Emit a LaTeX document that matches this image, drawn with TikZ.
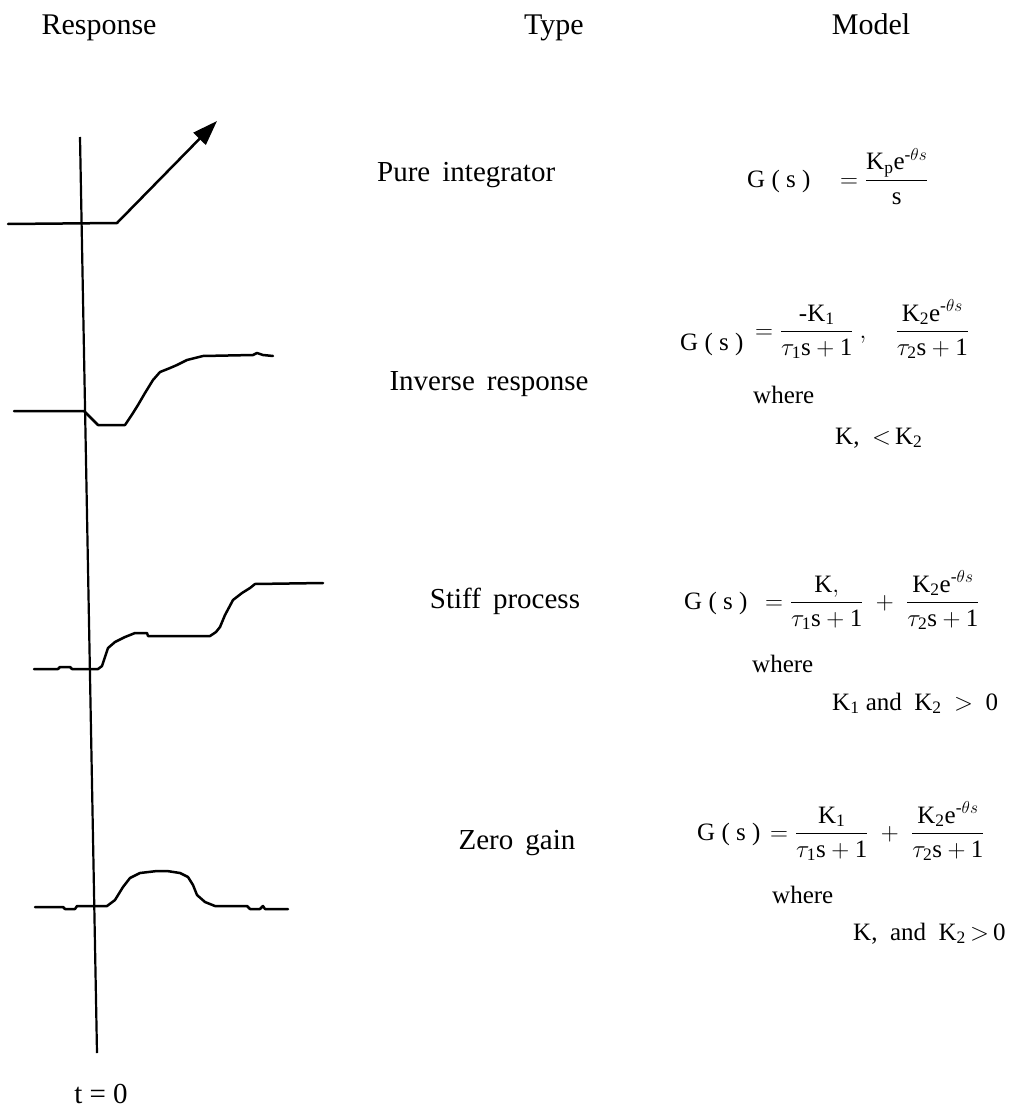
\documentclass[tikz,border=0pt]{standalone}
\usepackage{amsmath}
\usepackage{fontspec}
\setmainfont{Liberation Serif}
\usetikzlibrary{arrows.meta}
\newcommand{\rn}[1]{\mathrm{#1}}
\begin{document}
\begin{tikzpicture}[x=1pt,y=-1pt,
  head/.style={font=\fontsize{30}{34}\selectfont, inner sep=0pt, anchor=base},
  lab/.style={font=\fontsize{29}{33}\selectfont, inner sep=0pt, anchor=base},
  frm/.style={font=\fontsize{25}{28}\selectfont, inner sep=0pt, anchor=base west},
  curve/.style={line width=2.5pt, line join=round, line cap=round},
  axisline/.style={line width=2.2pt}]
\useasboundingbox (0,0) rectangle (1033,1110);
% headers
\node[head] (hresp) at (99,35) {Response};
\node[head] (htype) at (554,35) {Type};
\node[head] (hmodel) at (871,35) {Model};
% type labels
\node[lab,anchor=base west] (t1) at (377,182) {Pure\, integrator};
\node[lab] (t2) at (489,390) {Inverse\, response};
\node[lab] (t3) at (505,608) {Stiff\, process};
\node[lab] (t4) at (517,849) {Zero\, gain};
% axis
\coordinate (axtop) at (80,137);
\coordinate (axbot) at (97,1053);
\draw[axisline] (axtop) -- (axbot);
\node[lab] (t0) at (101,1103) {t\ =\ 0};
% pure integrator
\coordinate (p0) at (8,224);
\coordinate (p1) at (117,223);
\coordinate (p2) at (217,121);
\draw[curve,-{Triangle[length=25pt,width=17pt]}] (p0) -- (p1) -- (p2);
% inverse response
\draw[curve] (14,411) -- (84,411) -- (98,425) -- (125,425) -- (133,413) -- (138,405) -- (145,393) -- (153,380) -- (160,372) -- (170,368) -- (177,365) -- (187,360) -- (203,356) -- (253,355) -- (257,353) -- (263,355) -- (273,356);
% stiff process
\draw[curve] (34,669) -- (58,669) -- (60,667) -- (70,667) -- (72,669) -- (98,669) -- (102,666) -- (105,657) -- (108,648) -- (115,642) -- (125,637) -- (135,633) -- (147,633) -- (148,636) -- (210,636) -- (216,632) -- (220,627) -- (225,615) -- (233,600) -- (242,593) -- (250,588) -- (255,584) -- (323,583);
% zero gain
\draw[curve] (35,907) -- (63,907) -- (65,909) -- (75,909) -- (77,906) -- (107,906) -- (115,900) -- (123,887) -- (130,878) -- (140,873) -- (157,871) -- (167,871) -- (180,873) -- (188,877) -- (193,885) -- (197,895) -- (205,902) -- (215,906) -- (247,906) -- (250,909) -- (260,909) -- (263,906) -- (265,909) -- (288,909);
% models
\node[frm] (g1) at (747,187) {G\ (\ s\ )};
\node[frm] (m1) at (840,187) {$= \dfrac{\rn{K_p e}^{\text{-}\theta s}}{\rn{s}}$};
\node[frm] (g2) at (680,350) {G\ (\ s\ )};
\node[frm] (m2) at (755,338) {$=\dfrac{\text{-}\rn{K}_\rn{1}}{\tau_\rn{1}\rn{s}+\rn{1}}\ ,\quad\dfrac{\rn{K_2e}^{\text{-}\theta s}}{\tau_\rn{2}\rn{s}+\rn{1}}$};
\node[frm] (w2) at (753,403) {where};
\node[frm] (c2) at (835,444) {K,\ \ $<$\,K$_\rn{2}$};
\node[frm] (g3) at (684,609) {G\ (\ s\ )};
\node[frm] (m3) at (765,609) {$=\dfrac{\rn{K,}}{\tau_\rn{1}\rn{s}+\rn{1}}\;+\;\dfrac{\rn{K_2e}^{\text{-}\theta s}}{\tau_\rn{2}\rn{s}+\rn{1}}$};
\node[frm] (w3) at (752,672) {where};
\node[frm] (c3) at (832,710) {K$_\rn{1}$ and\ \ K$_\rn{2}$ \ $>$\ \ 0};
\node[frm] (g4) at (697,840) {G\ (\ s\ )};
\node[frm] (m4) at (770,840) {$=\dfrac{\rn{K}_\rn{1}}{\tau_\rn{1}\rn{s}+\rn{1}}\;+\;\dfrac{\rn{K_2e}^{\text{-}\theta s}}{\tau_\rn{2}\rn{s}+\rn{1}}$};
\node[frm] (w4) at (772,903) {where};
\node[frm] (c4) at (853,940) {K,\ \ and\ \ K$_\rn{2}$\,$>$\,0};
\end{tikzpicture}
\end{document}
